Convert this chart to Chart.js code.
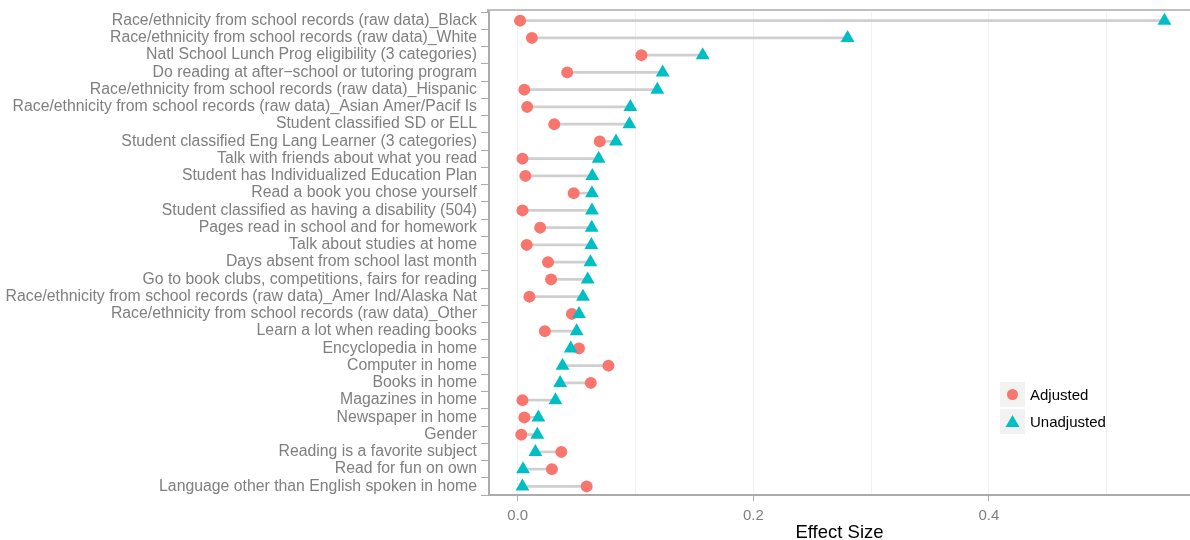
<!DOCTYPE html>
<html>
<head>
<meta charset="utf-8">
<script src="https://cdn.jsdelivr.net/npm/chart.js@4"></script>
<style>
  html, body { margin: 0; padding: 0; background: #fff; }
  #wrap { width: 1190px; height: 540px; }
</style>
</head>
<body>
<div id="wrap"><canvas id="effects"></canvas></div>
<script>
const labels = [
  'Race/ethnicity from school records (raw data)_Black',
  'Race/ethnicity from school records (raw data)_White',
  'Natl School Lunch Prog eligibility (3 categories)',
  'Do reading at after\u2212school or tutoring program',
  'Race/ethnicity from school records (raw data)_Hispanic',
  'Race/ethnicity from school records (raw data)_Asian Amer/Pacif Is',
  'Student classified SD or ELL',
  'Student classified Eng Lang Learner (3 categories)',
  'Talk with friends about what you read',
  'Student has Individualized Education Plan',
  'Read a book you chose yourself',
  'Student classified as having a disability (504)',
  'Pages read in school and for homework',
  'Talk about studies at home',
  'Days absent from school last month',
  'Go to book clubs, competitions, fairs for reading',
  'Race/ethnicity from school records (raw data)_Amer Ind/Alaska Nat',
  'Race/ethnicity from school records (raw data)_Other',
  'Learn a lot when reading books',
  'Encyclopedia in home',
  'Computer in home',
  'Books in home',
  'Magazines in home',
  'Newspaper in home',
  'Gender',
  'Reading is a favorite subject',
  'Read for fun on own',
  'Language other than English spoken in home'
];

const adjusted = [
  0.002, 0.012, 0.105, 0.042, 0.0056, 0.008, 0.031, 0.0696, 0.004, 0.0065,
  0.0475, 0.004, 0.019, 0.0076, 0.0257, 0.0283, 0.0099, 0.046, 0.023, 0.052,
  0.077, 0.062, 0.004, 0.0056, 0.003, 0.037, 0.029, 0.0585
];

const unadjusted = [
  0.549, 0.280, 0.157, 0.123, 0.1185, 0.0956, 0.0948, 0.0834, 0.0687, 0.0633,
  0.063, 0.063, 0.0628, 0.0625, 0.0617, 0.0594, 0.0554, 0.052, 0.050, 0.045,
  0.038, 0.036, 0.032, 0.0175, 0.0166, 0.015, 0.0045, 0.004
];

const xTicks = [0, 0.1, 0.2, 0.3, 0.4, 0.5];

const RED = '#F8766D';
const TEAL = '#00BFC4';
const AXIS = '#ababab';
const FONT = '"Liberation Sans", Arial, Helvetica, sans-serif';

// grey segment between the two estimates of each row
const spans = adjusted.map((a, i) => [Math.min(a, unadjusted[i]), Math.max(a, unadjusted[i])]);

const isMajor = v => Math.abs(Math.round(v * 10) % 2) === 0;

const frameAndLegend = {
  id: 'frameAndLegend',
  afterDraw(chart) {
    const { ctx, chartArea } = chart;
    ctx.save();
    // panel frame: top edge sits a little above the first row's band,
    // left edge continued up to meet it
    const top = chartArea.top - 2;
    ctx.strokeStyle = AXIS;
    ctx.lineWidth = 1.5;
    ctx.beginPath();
    ctx.moveTo(chartArea.left, top);
    ctx.lineTo(chartArea.right, top);
    ctx.stroke();
    ctx.lineWidth = 2;
    ctx.beginPath();
    ctx.moveTo(chartArea.left - 1, top - 0.75);
    ctx.lineTo(chartArea.left - 1, chartArea.top);
    ctx.stroke();

    // legend with grey key boxes
    const items = [1, 2].map(i => chart.data.datasets[i]);
    const x0 = chartArea.right - 190;
    let y0 = chartArea.bottom - 113;
    items.forEach(ds => {
      ctx.fillStyle = '#f2f2f2';
      ctx.fillRect(x0, y0, 25, 25);
      const cx = x0 + 12.5, cy = y0 + 12.5;
      ctx.fillStyle = ds.pointBackgroundColor;
      ctx.beginPath();
      if (ds.pointStyle === 'triangle') {
        ctx.moveTo(cx, cy - 6.5);
        ctx.lineTo(cx + 7, cy + 5.5);
        ctx.lineTo(cx - 7, cy + 5.5);
        ctx.closePath();
      } else {
        ctx.arc(cx, cy, 5.5, 0, Math.PI * 2);
      }
      ctx.fill();
      ctx.fillStyle = '#000';
      ctx.font = '15px ' + FONT;
      ctx.textBaseline = 'middle';
      ctx.fillText(ds.label, x0 + 30, cy + 1);
      y0 += 27;
    });
    ctx.restore();
  }
};

new Chart(document.getElementById('effects'), {
  type: 'bar',
  data: {
    labels: labels,
    datasets: [
      {
        type: 'bar',
        label: 'span',
        data: spans,
        backgroundColor: '#cfcfcf',
        barThickness: 2,
        order: 3
      },
      {
        type: 'line',
        label: 'Adjusted',
        data: adjusted,
        showLine: false,
        pointStyle: 'circle',
        pointRadius: 6,
        pointHoverRadius: 6,
        pointBorderWidth: 0,
        pointBackgroundColor: RED,
        borderColor: RED,
        order: 2
      },
      {
        type: 'line',
        label: 'Unadjusted',
        data: unadjusted,
        showLine: false,
        pointStyle: 'triangle',
        pointRadius: 8,
        pointHoverRadius: 8,
        pointBorderWidth: 0,
        pointBackgroundColor: TEAL,
        borderColor: TEAL,
        order: 1
      }
    ]
  },
  options: {
    indexAxis: 'y',
    responsive: true,
    maintainAspectRatio: false,
    animation: false,
    layout: { autoPadding: false, padding: { left: 0, right: 0, top: 12, bottom: 0 } },
    plugins: {
      legend: { display: false },
      tooltip: { enabled: false }
    },
    scales: {
      x: {
        type: 'linear',
        min: -0.0244,
        max: 0.5707,
        afterBuildTicks(scale) {
          scale.ticks = xTicks.map(v => ({ value: v }));
        },
        afterFit(scale) {
          scale.height = 45;
          scale.paddingLeft = 0;
          scale.paddingRight = 0;
        },
        border: { color: AXIS, width: 2 },
        grid: {
          color: '#f1f1f1',
          lineWidth: 1,
          tickLength: 6,
          tickColor: ctx => isMajor(ctx.tick.value) ? AXIS : 'rgba(0,0,0,0)'
        },
        ticks: {
          padding: 6,
          color: '#7f7f7f',
          font: { family: FONT, size: 15 },
          callback: v => isMajor(v) ? v.toFixed(1) : ''
        },
        title: {
          display: true,
          text: 'Effect Size',
          color: '#000',
          font: { family: FONT, size: 18.5 },
          padding: { top: 0, bottom: -4 }
        }
      },
      y: {
        type: 'category',
        offset: true,
        afterFit(scale) {
          scale.width = 489;
          scale.paddingTop = 0;
          scale.paddingBottom = 0;
        },
        border: { color: AXIS, width: 2 },
        grid: {
          drawOnChartArea: false,
          tickLength: 8,
          tickColor: AXIS
        },
        ticks: {
          padding: 4,
          autoSkip: false,
          color: '#7f7f7f',
          font: { family: FONT, size: 15.8 }
        }
      }
    }
  },
  plugins: [frameAndLegend]
});
</script>
</body>
</html>
